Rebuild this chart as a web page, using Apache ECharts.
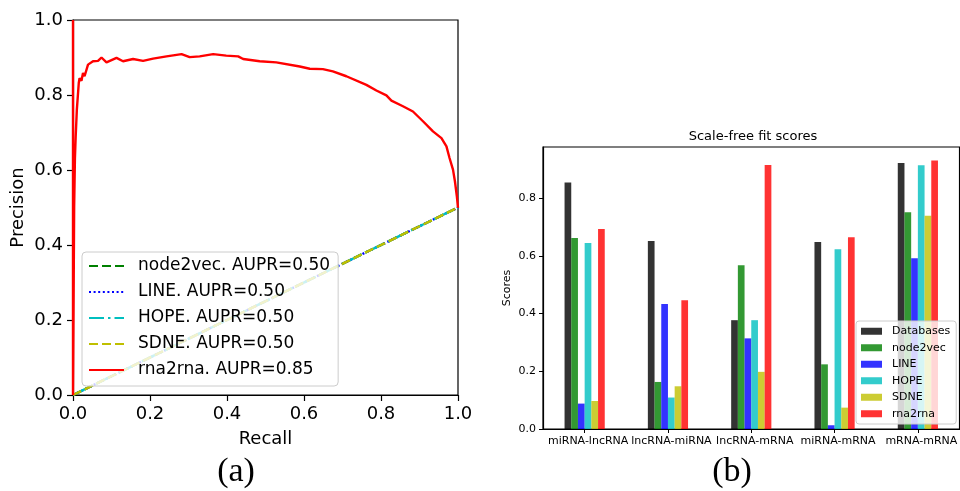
<!DOCTYPE html>
<html><head><meta charset="utf-8">
<script src="https://cdn.jsdelivr.net/npm/echarts@6/dist/echarts.min.js"></script>
<style>html,body{margin:0;padding:0;background:#fff}#c{width:960px;height:491px}</style>
</head><body><div id="c"></div>
<script>
// ---- Panel (a): precision-recall ----
const prTicks = [0, 0.2, 0.4, 0.6, 0.8, 1.0];
const baselineRecall = [0, 1];
const baselinePrecision = [0, 0.5];
const prNames = ['node2vec. AUPR=0.50', 'LINE. AUPR=0.50', 'HOPE. AUPR=0.50', 'SDNE. AUPR=0.50', 'rna2rna. AUPR=0.85'];
const rnaRecall = [0, 0, 0.003, 0.005, 0.007, 0.010, 0.015, 0.017, 0.022, 0.026, 0.030, 0.039, 0.052, 0.065, 0.074, 0.087, 0.100, 0.113, 0.130, 0.156, 0.182, 0.208, 0.243, 0.282, 0.303, 0.329, 0.364, 0.398, 0.429, 0.442, 0.485, 0.528, 0.589, 0.615, 0.649, 0.675, 0.710, 0.762, 0.788, 0.814, 0.827, 0.857, 0.883, 0.909, 0.935, 0.957, 0.970, 0.978, 0.987, 0.992, 0.997, 1.0];
const rnaPrecision = [1.0, 0.0, 0.50, 0.63, 0.69, 0.761, 0.832, 0.845, 0.838, 0.859, 0.850, 0.881, 0.890, 0.891, 0.900, 0.887, 0.893, 0.899, 0.890, 0.896, 0.891, 0.897, 0.903, 0.909, 0.901, 0.903, 0.909, 0.905, 0.903, 0.896, 0.890, 0.887, 0.876, 0.870, 0.869, 0.863, 0.850, 0.827, 0.812, 0.799, 0.785, 0.770, 0.756, 0.730, 0.703, 0.685, 0.663, 0.632, 0.601, 0.570, 0.530, 0.499];

// ---- Panel (b): scale-free fit scores ----
const categories = ['miRNA-lncRNA', 'lncRNA-miRNA', 'lncRNA-mRNA', 'miRNA-mRNA', 'mRNA-mRNA'];
const barNames = ['Databases', 'node2vec', 'LINE', 'HOPE', 'SDNE', 'rna2rna'];
const databases = [0.854, 0.651, 0.377, 0.648, 0.922];
const node2vec = [0.662, 0.163, 0.567, 0.224, 0.751];
const lineScores = [0.088, 0.433, 0.314, 0.013, 0.592];
const hope = [0.644, 0.109, 0.377, 0.623, 0.914];
const sdne = [0.097, 0.148, 0.198, 0.074, 0.739];
const rna2rna = [0.693, 0.446, 0.915, 0.664, 0.930];
const scoreTicks = [0, 0.2, 0.4, 0.6, 0.8];

const FONT = 'DejaVu Sans';
const chart = echarts.init(document.getElementById('c'), null, {renderer: 'canvas'});

const pairs = (xs, ys) => xs.map((x, i) => [x, ys[i]]);
const baseline = pairs(baselineRecall, baselinePrecision);

const lineStyles = [
  {color: '#008000', type: [9, 4]},
  {color: '#0000ff', type: [2, 2.6]},
  {color: '#00bfbf', type: [15, 4, 2.5, 4]},
  {color: '#bfbf00', type: [9, 4]}
];
const barColors = ['rgba(0,0,0,0.8)', 'rgba(0,128,0,0.8)', 'rgba(0,0,255,0.8)', 'rgba(0,191,191,0.8)', 'rgba(191,191,0,0.8)', 'rgba(255,0,0,0.8)'];
const barData = [databases, node2vec, lineScores, hope, sdne, rna2rna];

const series = [];
lineStyles.forEach((ls, i) => {
  series.push({
    name: prNames[i], type: 'line', xAxisIndex: 0, yAxisIndex: 0,
    data: baseline, symbol: 'none', silent: true, z: 2 + i * 0.1,
    itemStyle: {color: ls.color},
    lineStyle: {color: ls.color, width: 2.4, type: ls.type, cap: 'butt'}
  });
});
series.push({
  name: prNames[4], type: 'line', xAxisIndex: 0, yAxisIndex: 0,
  data: pairs(rnaRecall, rnaPrecision), symbol: 'none', silent: true, z: 3,
  itemStyle: {color: '#ff0000'},
  lineStyle: {color: '#ff0000', width: 2.4}
});
barNames.forEach((n, i) => {
  series.push({
    name: n, type: 'bar', xAxisIndex: 1, yAxisIndex: 1,
    data: barData[i], barWidth: 6.7, barGap: '0%',
    itemStyle: {color: barColors[i]},
    silent: true
  });
});

const axisCommon = {
  axisLine: {show: true, onZero: false, lineStyle: {color: '#000', width: 1.2}},
  splitLine: {show: false}
};

chart.setOption({
  animation: false,
  backgroundColor: '#fff',
  textStyle: {fontFamily: FONT},
  grid: [
    {left: 73, top: 20, width: 385, height: 375, show: true, borderColor: '#000', borderWidth: 1.2, backgroundColor: 'transparent'},
    {left: 543, top: 147, width: 420, height: 282, show: true, borderColor: '#000', borderWidth: 1.2, backgroundColor: 'transparent'}
  ],
  xAxis: [
    Object.assign({
      type: 'value', gridIndex: 0, min: 0, max: 1, interval: 0.2,
      axisTick: {show: true, length: 6, lineStyle: {color: '#000', width: 1.2}},
      axisLabel: {fontSize: 18, color: '#000', margin: 10, fontFamily: FONT, formatter: v => v.toFixed(1)},
      name: 'Recall', nameLocation: 'middle', nameGap: 35,
      nameTextStyle: {fontSize: 18, color: '#000', fontFamily: FONT}
    }, axisCommon),
    Object.assign({
      type: 'category', gridIndex: 1, data: categories,
      axisTick: {show: true, alignWithLabel: true, length: 4, lineStyle: {color: '#000'}},
      axisLabel: {fontSize: 11, color: '#000', margin: 7, fontFamily: FONT, padding: [0, 0, 0, 7], interval: 0}
    }, axisCommon)
  ],
  yAxis: [
    Object.assign({
      type: 'value', gridIndex: 0, min: 0, max: 1, interval: 0.2,
      axisTick: {show: true, length: 6, lineStyle: {color: '#000', width: 1.2}},
      axisLabel: {fontSize: 18, color: '#000', margin: 10, fontFamily: FONT, formatter: v => v.toFixed(1)},
      name: 'Precision', nameLocation: 'middle', nameGap: 46,
      nameTextStyle: {fontSize: 18, color: '#000', fontFamily: FONT}
    }, axisCommon),
    Object.assign({
      type: 'value', gridIndex: 1, min: 0, max: 0.977, interval: 0.2,
      axisTick: {show: true, length: 4, lineStyle: {color: '#000'}, customValues: scoreTicks},
      axisLabel: {fontSize: 11, color: '#000', margin: 7, fontFamily: FONT, customValues: scoreTicks, formatter: v => Number(v).toFixed(1)},
      name: 'Scores', nameLocation: 'middle', nameGap: 30,
      nameTextStyle: {fontSize: 11, color: '#000', fontFamily: FONT}
    }, axisCommon)
  ],
  legend: [
    {
      data: prNames, orient: 'vertical', left: 82, top: 252,
      itemWidth: 35, itemHeight: 14, itemGap: 6,
      padding: [4, 8, 6, 6],
      itemStyle: {opacity: 0},
      backgroundColor: 'rgba(255,255,255,0.8)', borderColor: '#cccccc', borderWidth: 1, borderRadius: 4,
      textStyle: {fontSize: 17, lineHeight: 20, color: '#000', fontFamily: FONT, padding: [0, 0, 0, 9]},
      selectedMode: false
    },
    {
      data: barNames, orient: 'vertical', left: 856, top: 321,
      itemWidth: 21, itemHeight: 7, itemGap: 4, icon: 'rect',
      padding: [4, 6, 4, 5],
      backgroundColor: 'rgba(255,255,255,0.8)', borderColor: '#cccccc', borderWidth: 1, borderRadius: 3,
      textStyle: {fontSize: 11, lineHeight: 12.5, color: '#000', fontFamily: FONT, padding: [0, 0, 0, 5]},
      selectedMode: false
    }
  ],
  graphic: [
    {type: 'text', x: 753, y: 137, style: {text: 'Scale-free fit scores', fontSize: 13, fontFamily: FONT, fill: '#000', align: 'center', verticalAlign: 'middle'}},
    {type: 'text', x: 236, y: 472, style: {text: '(a)', fontSize: 34, fontFamily: 'Liberation Serif', fill: '#000', align: 'center', verticalAlign: 'middle'}},
    {type: 'text', x: 732, y: 472, style: {text: '(b)', fontSize: 34, fontFamily: 'Liberation Serif', fill: '#000', align: 'center', verticalAlign: 'middle'}}
  ],
  series: series
});
</script>
</body></html>
